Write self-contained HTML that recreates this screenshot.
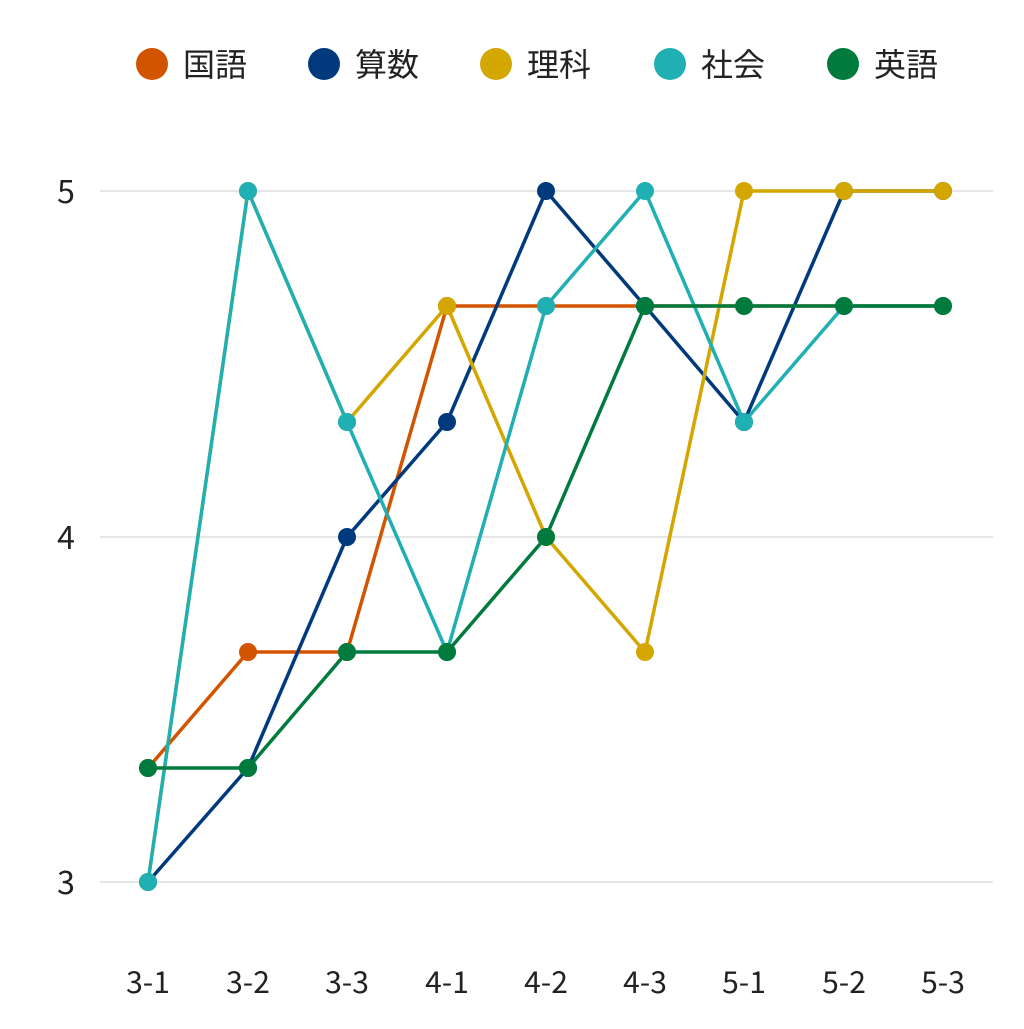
<!DOCTYPE html>
<html><head><meta charset="utf-8"><style>
html,body{margin:0;padding:0;background:#fff;}
text{font-family:"Noto Sans CJK JP","Liberation Sans",sans-serif;fill:#222;}
</style></head><body>
<svg width="1024" height="1024" viewBox="0 0 1024 1024" xmlns="http://www.w3.org/2000/svg">
<g stroke="#cccccc" stroke-width="1">
<line x1="100" y1="191" x2="993" y2="191"/>
<line x1="100" y1="537" x2="993" y2="537"/>
<line x1="100" y1="882" x2="993" y2="882"/>
</g>
<g font-size="32" text-anchor="middle">
<text x="66" y="203">5</text><text x="66" y="549">4</text><text x="66" y="894">3</text>
</g>
<g font-size="30" text-anchor="middle">
<text x="148" y="993">3-1</text><text x="248" y="993">3-2</text><text x="347" y="993">3-3</text>
<text x="447" y="993">4-1</text><text x="546" y="993">4-2</text><text x="645" y="993">4-3</text>
<text x="744" y="993">5-1</text><text x="844" y="993">5-2</text><text x="943" y="993">5-3</text>
</g>
<g font-size="32">
<circle cx="152" cy="64" r="16" fill="#d35400"/><text x="183" y="76">国語</text>
<circle cx="324" cy="64" r="16" fill="#003a7d"/><text x="355" y="76">算数</text>
<circle cx="496" cy="64" r="16" fill="#d4a600"/><text x="527" y="76">理科</text>
<circle cx="670" cy="64" r="16" fill="#20b0b3"/><text x="701" y="76">社会</text>
<circle cx="843" cy="64" r="16" fill="#007a3d"/><text x="874" y="76">英語</text>
</g>
<g fill="none" stroke-width="3.5" stroke-linejoin="round">
<polyline stroke="#d35400" points="148,768 248,652 347,652 447,306 546,306 645,306 744,306 844,306 943,306"/>
<polyline stroke="#003a7d" points="148,882 248,768 347,537 447,422 546,191 645,306 744,422 844,191 943,191"/>
<polyline stroke="#d4a600" points="148,882 248,191 347,422 447,306 546,537 645,652 744,191 844,191 943,191"/>
<polyline stroke="#20b0b3" points="148,882 248,191 347,422 447,652 546,306 645,191 744,422 844,306 943,306"/>
<polyline stroke="#007a3d" points="148,768 248,768 347,652 447,652 546,537 645,306 744,306 844,306 943,306"/>
</g>
<g fill="#d35400"><circle cx="148" cy="768" r="9"/><circle cx="248" cy="652" r="9"/><circle cx="347" cy="652" r="9"/><circle cx="447" cy="306" r="9"/><circle cx="546" cy="306" r="9"/></g>
<g fill="#003a7d"><circle cx="148" cy="882" r="9"/><circle cx="248" cy="768" r="9"/><circle cx="347" cy="537" r="9"/><circle cx="447" cy="422" r="9"/><circle cx="546" cy="191" r="9"/><circle cx="645" cy="306" r="9"/><circle cx="744" cy="422" r="9"/><circle cx="844" cy="191" r="9"/><circle cx="943" cy="191" r="9"/></g>
<g fill="#d4a600"><circle cx="148" cy="882" r="9"/><circle cx="248" cy="191" r="9"/><circle cx="347" cy="422" r="9"/><circle cx="447" cy="306" r="9"/><circle cx="546" cy="537" r="9"/><circle cx="645" cy="652" r="9"/><circle cx="744" cy="191" r="9"/><circle cx="844" cy="191" r="9"/><circle cx="943" cy="191" r="9"/></g>
<g fill="#20b0b3"><circle cx="148" cy="882" r="9"/><circle cx="248" cy="191" r="9"/><circle cx="347" cy="422" r="9"/><circle cx="447" cy="652" r="9"/><circle cx="546" cy="306" r="9"/><circle cx="645" cy="191" r="9"/><circle cx="744" cy="422" r="9"/><circle cx="844" cy="306" r="9"/><circle cx="943" cy="306" r="9"/></g>
<g fill="#007a3d"><circle cx="148" cy="768" r="9"/><circle cx="248" cy="768" r="9"/><circle cx="347" cy="652" r="9"/><circle cx="447" cy="652" r="9"/><circle cx="546" cy="537" r="9"/><circle cx="645" cy="306" r="9"/><circle cx="744" cy="306" r="9"/><circle cx="844" cy="306" r="9"/><circle cx="943" cy="306" r="9"/></g>
</svg>
</body></html>
